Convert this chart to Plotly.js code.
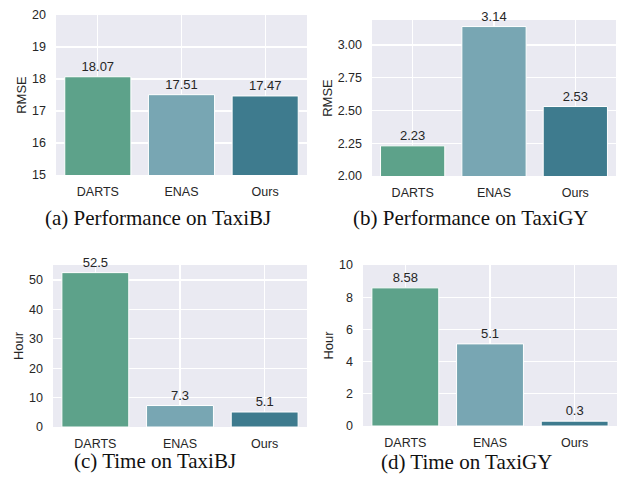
<!DOCTYPE html>
<html>
<head>
<meta charset="utf-8">
<script src="https://cdn.plot.ly/plotly-3.0.1.min.js"></script>
<style>html,body{margin:0;padding:0;background:#fff;}#chart{width:627px;height:484px;}</style>
</head>
<body>
<div id="chart"></div>
<script>
const categories = ["DARTS", "ENAS", "Ours"];
const rmseTaxiBJ = [18.07, 17.51, 17.47];
const rmseTaxiGY = [2.23, 3.14, 2.53];
const hourTaxiBJ = [52.5, 7.3, 5.1];
const hourTaxiGY = [8.58, 5.1, 0.3];
const labelsRmseBJ = ["18.07", "17.51", "17.47"];
const labelsRmseGY = ["2.23", "3.14", "2.53"];
const labelsHourBJ = ["52.5", "7.3", "5.1"];
const labelsHourGY = ["8.58", "5.1", "0.3"];
const captions = ["(a) Performance on TaxiBJ", "(b) Performance on TaxiGY", "(c) Time on TaxiBJ", "(d) Time on TaxiGY"];

const barColors = ["#5da28a", "#78a6b3", "#3e7b8e"];
const sans = "Liberation Sans, Arial, sans-serif";
const textCol = "#262626";

function barTrace(vals, labels, idx) {
  const sfx = idx === 1 ? "" : String(idx);
  return {
    type: "bar", x: categories, y: vals, text: labels,
    textposition: "outside", cliponaxis: false, constraintext: "none",
    textfont: {family: sans, size: 13, color: textCol},
    marker: {color: barColors, line: {color: "#ffffff", width: 1}},
    width: 0.79, xaxis: "x" + sfx, yaxis: "y" + sfx, showlegend: false,
    hoverinfo: "skip"
  };
}

const data = [
  barTrace(rmseTaxiBJ, labelsRmseBJ, 1),
  barTrace(rmseTaxiGY, labelsRmseGY, 2),
  barTrace(hourTaxiBJ, labelsHourBJ, 3),
  barTrace(hourTaxiGY, labelsHourGY, 4)
];

function xax(domain, anchor) {
  return {domain: domain, anchor: anchor, range: [-0.5, 2.5], showgrid: true, gridcolor: "#ffffff", gridwidth: 1.2,
    zeroline: false, showline: false, ticks: "", tickfont: {family: sans, size: 12.5, color: textCol},
    ticklabelstandoff: 7, fixedrange: true};
}
function yax(domain, anchor, range, dtick, fmt, title) {
  return {domain: domain, anchor: anchor, range: range, dtick: dtick, tick0: 0, tickformat: fmt,
    showgrid: true, gridcolor: "#ffffff", gridwidth: 1.2, zeroline: false, showline: false, ticks: "",
    tickfont: {family: sans, size: 12.5, color: textCol}, ticklabelstandoff: 9,
    title: {text: title, font: {family: sans, size: 13, color: textCol}, standoff: 2}, fixedrange: true};
}

const captionPos = [[0.252, 218], [0.750, 218], [0.247, 461], [0.744, 462]];
const annotations = captions.map((c, i) => ({
  text: c, xref: "paper", yref: "paper", x: captionPos[i][0], y: 1 - captionPos[i][1] / 484,
  xanchor: "center", yanchor: "middle", showarrow: false,
  font: {family: "Liberation Serif, Times New Roman, serif", size: 21, color: "#111111"}
}));

const layout = {
  width: 627, height: 484, margin: {l: 0, r: 0, t: 0, b: 0},
  paper_bgcolor: "#ffffff", plot_bgcolor: "#eaeaf2",
  xaxis: xax([56/627, 307/627], "y"),
  yaxis: yax([1 - 175/484, 1 - 15/484], "x", [15, 20], 1, "d", "RMSE"),
  xaxis2: xax([372/627, 616/627], "y2"),
  yaxis2: yax([1 - 176/484, 1 - 20/484], "x2", [2.0, 3.19], 0.25, ".2f", "RMSE"),
  xaxis3: xax([53/627, 307/627], "y3"),
  yaxis3: yax([1 - 427/484, 1 - 265/484], "x3", [0, 55.1], 10, "d", "Hour"),
  xaxis4: xax([363/627, 617/627], "y4"),
  yaxis4: yax([1 - 426/484, 1 - 265/484], "x4", [0, 10], 2, "d", "Hour"),
  annotations: annotations,
  bargap: 0.2
};

Plotly.newPlot("chart", data, layout, {staticPlot: true, displayModeBar: false});
</script>
</body>
</html>
